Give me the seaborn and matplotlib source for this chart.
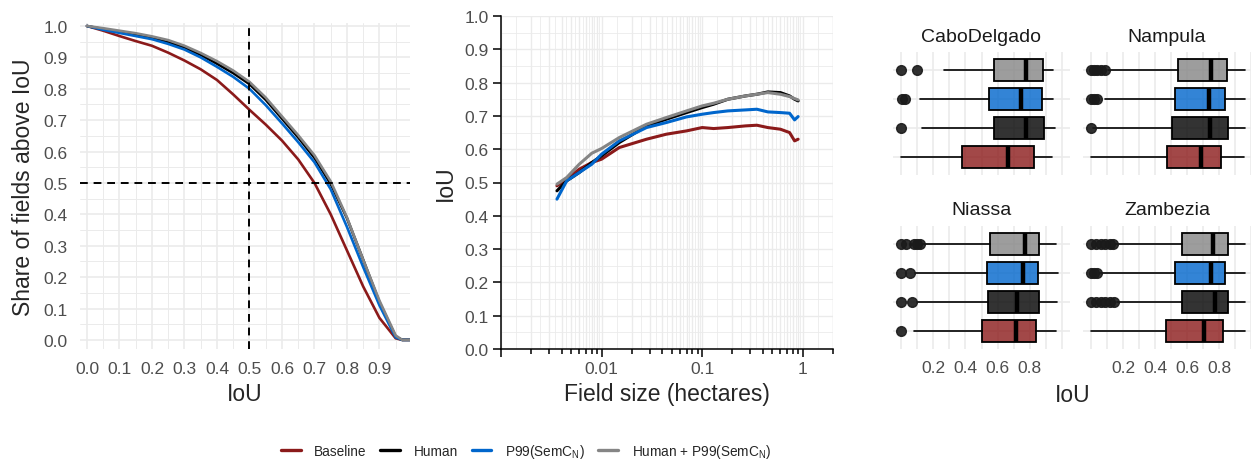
import numpy as np
import pandas as pd
import matplotlib
matplotlib.use("Agg")
import matplotlib.pyplot as plt
from matplotlib.colors import to_rgba
from matplotlib.lines import Line2D
import seaborn as sns

W, H = 1251, 464

MODELS = ["Baseline", "Human", "P99(SemC$\\mathregular{_N}$)", "Human + P99(SemC$\\mathregular{_N}$)"]
COLORS = ["#8B1A1A", "#000000", "#0066CC", "#858585"]

# share of fields above IoU threshold
IOU_GRID = [0.0, 0.05, 0.1, 0.15, 0.2, 0.25, 0.3, 0.35, 0.4, 0.45, 0.5,
            0.55, 0.6, 0.65, 0.7, 0.75, 0.8, 0.85, 0.9, 0.95, 0.97, 1.0]
SHARE_BASELINE = [1.0, 0.985, 0.968, 0.952, 0.937, 0.915, 0.89, 0.862, 0.828, 0.782, 0.733,
                  0.686, 0.635, 0.575, 0.50, 0.40, 0.285, 0.17, 0.07, 0.005, 0.0, 0.0]
SHARE_HUMAN = [1.0, 0.99, 0.982, 0.973, 0.962, 0.948, 0.932, 0.908, 0.88, 0.85, 0.815,
               0.765, 0.705, 0.645, 0.58, 0.497, 0.388, 0.255, 0.12, 0.01, 0.0, 0.0]
SHARE_P99 = [1.0, 0.988, 0.978, 0.968, 0.958, 0.943, 0.925, 0.90, 0.87, 0.838, 0.80,
             0.748, 0.69, 0.63, 0.566, 0.48, 0.36, 0.232, 0.11, 0.008, 0.0, 0.0]
SHARE_HUMAN_P99 = [1.0, 0.993, 0.985, 0.977, 0.967, 0.955, 0.937, 0.914, 0.888, 0.858, 0.822,
                   0.772, 0.712, 0.652, 0.588, 0.505, 0.39, 0.255, 0.125, 0.014, 0.0, 0.0]

# IoU by field size (hectares)
FIELD_SIZE = [0.0036, 0.0045, 0.006, 0.008, 0.01, 0.015, 0.028, 0.044, 0.07, 0.1,
              0.13, 0.18, 0.27, 0.35, 0.45, 0.6, 0.74, 0.83, 0.9]
IOU_SIZE_BASELINE = [0.49, 0.51, 0.54, 0.56, 0.57, 0.605, 0.63, 0.645, 0.655, 0.665,
                     0.662, 0.665, 0.67, 0.672, 0.665, 0.66, 0.65, 0.625, 0.63]
IOU_SIZE_HUMAN = [0.475, 0.505, 0.53, 0.56, 0.58, 0.62, 0.67, 0.69, 0.71, 0.725,
                  0.735, 0.75, 0.76, 0.765, 0.772, 0.77, 0.76, 0.75, 0.745]
IOU_SIZE_P99 = [0.45, 0.505, 0.53, 0.555, 0.585, 0.625, 0.665, 0.68, 0.697, 0.705,
                0.71, 0.715, 0.718, 0.72, 0.712, 0.71, 0.708, 0.688, 0.698]
IOU_SIZE_HUMAN_P99 = [0.495, 0.515, 0.555, 0.588, 0.602, 0.635, 0.675, 0.695, 0.715, 0.73,
                      0.738, 0.75, 0.76, 0.765, 0.77, 0.765, 0.758, 0.752, 0.748]

# box stats per province, order: Baseline, Human, P99, Human + P99
REGIONS = ["CaboDelgado", "Nampula", "Niassa", "Zambezia"]
Q1 = {"CaboDelgado": [0.376, 0.578, 0.545, 0.578], "Nampula": [0.473, 0.506, 0.522, 0.545],
      "Niassa": [0.504, 0.539, 0.537, 0.555], "Zambezia": [0.469, 0.568, 0.526, 0.566]}
MED = {"CaboDelgado": [0.663, 0.779, 0.743, 0.779], "Nampula": [0.685, 0.741, 0.737, 0.751],
       "Niassa": [0.716, 0.72, 0.757, 0.768], "Zambezia": [0.706, 0.778, 0.747, 0.764]}
Q3 = {"CaboDelgado": [0.824, 0.886, 0.875, 0.881], "Nampula": [0.813, 0.855, 0.84, 0.85],
      "Niassa": [0.84, 0.856, 0.85, 0.856], "Zambezia": [0.824, 0.856, 0.84, 0.855]}
WLO = {"CaboDelgado": [0.0, 0.13, 0.118, 0.266], "Nampula": [0.0, 0.013, 0.087, 0.107],
       "Niassa": [0.08, 0.097, 0.087, 0.138], "Zambezia": [0.0, 0.163, 0.056, 0.159]}
WHI = {"CaboDelgado": [0.94, 0.958, 0.947, 0.947], "Nampula": [0.954, 0.964, 0.964, 0.964],
       "Niassa": [0.964, 0.97, 0.974, 0.964], "Zambezia": [0.964, 0.964, 0.964, 0.964]}
FLIERS = {"CaboDelgado": [[], [0.0], [0.004, 0.025], [0.0, 0.097]],
          "Nampula": [[], [0.0], [0.0, 0.02, 0.04], [0.0, 0.02, 0.04, 0.06, 0.09]],
          "Niassa": [[0.0], [0.0, 0.066], [0.0, 0.056], [0.0, 0.03, 0.08, 0.1, 0.12]],
          "Zambezia": [[], [0.0, 0.03, 0.06, 0.09, 0.12, 0.145], [0.0, 0.02, 0.04],
                       [0.0, 0.03, 0.06, 0.09, 0.12, 0.14]]}

sns.set_theme(style="white")
plt.rcParams["font.family"] = ["Liberation Sans", "DejaVu Sans"]

TICK_FS = 12.5
TITLE_FS = 16.5
TICK_C = "#4D4D4D"
GRID_C = "#EBEBEB"


def rect(x0, y0, x1, y1):
    return [x0 / W, 1 - y1 / H, (x1 - x0) / W, (y1 - y0) / H]


fig = plt.figure(figsize=(W / 100, H / 100), dpi=100)

# ---- left: share of fields above IoU
ax1 = fig.add_axes(rect(80, 24, 410, 350))
df_a = pd.DataFrame({
    "IoU": IOU_GRID * 4,
    "share": SHARE_BASELINE + SHARE_HUMAN + SHARE_P99 + SHARE_HUMAN_P99,
    "model": np.repeat(MODELS, len(IOU_GRID)),
})
sns.lineplot(data=df_a, x="IoU", y="share", hue="model", hue_order=MODELS,
             palette=COLORS, lw=1.9, legend=False, estimator=None, ax=ax1)
ax1.axvline(0.5, color="black", ls=(0, (4, 3)), lw=1.4)
ax1.axhline(0.5, color="black", ls=(0, (4, 3)), lw=1.4)
ax1.set_xlim(-0.0215, 0.994)
ax1.set_ylim(-0.029, 1.0096)
ax1.set_xticks(np.round(np.arange(0, 0.95, 0.1), 1))
ax1.set_xticks(np.arange(0.05, 1.0, 0.1), minor=True)
ax1.set_yticks(np.round(np.arange(0, 1.05, 0.1), 1))
ax1.set_yticks(np.arange(0.05, 1.0, 0.1), minor=True)
ax1.set_xticklabels([f"{v:.1f}" for v in np.arange(0, 0.95, 0.1)])
ax1.set_yticklabels([f"{v:.1f}" for v in np.arange(0, 1.05, 0.1)])
ax1.grid(which="major", color=GRID_C, lw=1.2)
ax1.grid(which="minor", color=GRID_C, lw=0.7)
ax1.set_axisbelow(True)
for s in ax1.spines.values():
    s.set_visible(False)
ax1.tick_params(which="both", length=0, labelsize=TICK_FS, labelcolor=TICK_C)
ax1.tick_params(axis="x", pad=9)
ax1.tick_params(axis="y", pad=9)
ax1.set_xlabel("IoU", fontsize=TITLE_FS)
ax1.set_ylabel("Share of fields above IoU", fontsize=TITLE_FS)
ax1.xaxis.label.set_va("center")
ax1.xaxis.set_label_coords(0.5, -0.138)
ax1.yaxis.label.set_va("center")
ax1.yaxis.set_label_coords(-0.17, 0.5)

# ---- middle: IoU by field size
ax2 = fig.add_axes(rect(501, 17, 833, 350))
df_b = pd.DataFrame({
    "size": FIELD_SIZE * 4,
    "iou": IOU_SIZE_BASELINE + IOU_SIZE_HUMAN + IOU_SIZE_P99 + IOU_SIZE_HUMAN_P99,
    "model": np.repeat(MODELS, len(FIELD_SIZE)),
})
sns.lineplot(data=df_b, x="size", y="iou", hue="model", hue_order=MODELS,
             palette=COLORS, lw=2.2, legend=False, estimator=None, ax=ax2)
ax2.set_xscale("log")
ax2.set_xlim(0.001, 2)
ax2.set_ylim(0, 1)
log_lines = [k * 10.0 ** n for n in range(-3, 1) for k in range(1, 10)] + [2.0]
for v in log_lines:
    ax2.axvline(v, color=GRID_C, lw=1.0, zorder=0)
for a, b in zip(log_lines[:-1], log_lines[1:]):
    ax2.axvline(np.sqrt(a * b), color=GRID_C, lw=0.6, zorder=0)
for v in np.arange(0, 1.01, 0.1):
    ax2.axhline(v, color=GRID_C, lw=1.0, zorder=0)
for v in np.arange(0.05, 1.0, 0.1):
    ax2.axhline(v, color=GRID_C, lw=0.6, zorder=0)
ax2.set_xticks([0.001, 0.01, 0.1, 1])
ax2.set_xticklabels(["", "0.01", "0.1", "1"])
ax2.set_xticks([k * 10.0 ** n for n in range(-3, 1) for k in range(2, 10)
                if k * 10.0 ** n <= 2], minor=True)
ax2.set_yticks(np.round(np.arange(0, 1.05, 0.1), 1))
ax2.set_yticklabels([f"{v:.1f}" for v in np.arange(0, 1.05, 0.1)])
ax2.tick_params(axis="x", which="minor", labelbottom=False)
ax2.grid(False)
for side in ["top", "right"]:
    ax2.spines[side].set_visible(False)
for side in ["left", "bottom"]:
    ax2.spines[side].set_color("black")
    ax2.spines[side].set_linewidth(1.1)
ax2.tick_params(which="major", direction="out", length=6, width=1.1, color="black",
                labelsize=TICK_FS, labelcolor=TICK_C, pad=3, bottom=True, left=True)
ax2.tick_params(which="minor", direction="out", length=3.5, width=1.1, color="black",
                bottom=True)
ax2.set_xlabel("Field size (hectares)", fontsize=TITLE_FS)
ax2.set_ylabel("IoU", fontsize=TITLE_FS)
ax2.xaxis.label.set_va("center")
ax2.xaxis.set_label_coords(0.5, -0.135)
ax2.yaxis.label.set_va("center")
ax2.yaxis.set_label_coords(-0.169, 0.5)

# ---- right: boxplots per province
facet_rects = {
    "CaboDelgado": ((893, 53, 1070, 176), (-0.05, 1.05)),
    "Nampula": ((1083, 53, 1251, 176), (-0.05, 0.99)),
    "Niassa": ((893, 227, 1070, 350), (-0.05, 1.05)),
    "Zambezia": ((1083, 227, 1251, 350), (-0.05, 0.99)),
}
for region in REGIONS:
    r, xl = facet_rects[region]
    ax = fig.add_axes(rect(*r))
    stats = []
    for i in range(len(MODELS)):
        stats.append(dict(med=MED[region][i], q1=Q1[region][i], q3=Q3[region][i],
                          whislo=WLO[region][i], whishi=WHI[region][i],
                          fliers=FLIERS[region][i]))
    res = ax.bxp(stats, positions=range(len(MODELS)), widths=0.75,
                 orientation="horizontal", patch_artist=True, showcaps=False,
                 boxprops=dict(lw=1.3, edgecolor="black"),
                 medianprops=dict(color="black", lw=3.2),
                 whiskerprops=dict(color="black", lw=1.2),
                 flierprops=dict(marker="o", mfc="#1A1A1A", mec="#1A1A1A", ms=7, alpha=0.9))
    for patch, c in zip(res["boxes"], COLORS):
        patch.set_facecolor(to_rgba(c, 0.8))
    ax.set_xlim(*xl)
    ax.set_ylim(-0.6, 3.6)
    ax.set_xticks([0.2, 0.4, 0.6, 0.8])
    ax.set_xticks([0.0, 0.1, 0.3, 0.5, 0.7, 0.9, 1.0], minor=True)
    ax.set_yticks(range(len(MODELS)))
    ax.set_yticklabels([])
    ax.grid(which="both", axis="x", color=GRID_C, lw=1.2)
    ax.grid(which="major", axis="y", color=GRID_C, lw=1.2)
    ax.set_axisbelow(True)
    for s in ax.spines.values():
        s.set_visible(False)
    ax.tick_params(which="both", length=0, labelsize=TICK_FS, labelcolor=TICK_C, pad=8)
    if region in ("CaboDelgado", "Nampula"):
        ax.set_xticklabels([])
    else:
        ax.set_xticklabels(["0.2", "0.4", "0.6", "0.8"])
    ax.text(0.5, 1 + 16 / 123, region, transform=ax.transAxes, ha="center", va="center",
            fontsize=14, color="#1A1A1A")

fig.text(1073 / W, 1 - 395 / H, "IoU", ha="center", va="center", fontsize=TITLE_FS)

handles = [Line2D([0], [0], color=c, lw=2.4) for c in COLORS]
fig.legend(handles, MODELS, loc="center", bbox_to_anchor=(526 / W, 1 - 452 / H), ncol=4,
           frameon=False, fontsize=9.8, handlelength=1.45, handletextpad=1.0,
           columnspacing=1.0)

fig.savefig("out.png", dpi=100)
